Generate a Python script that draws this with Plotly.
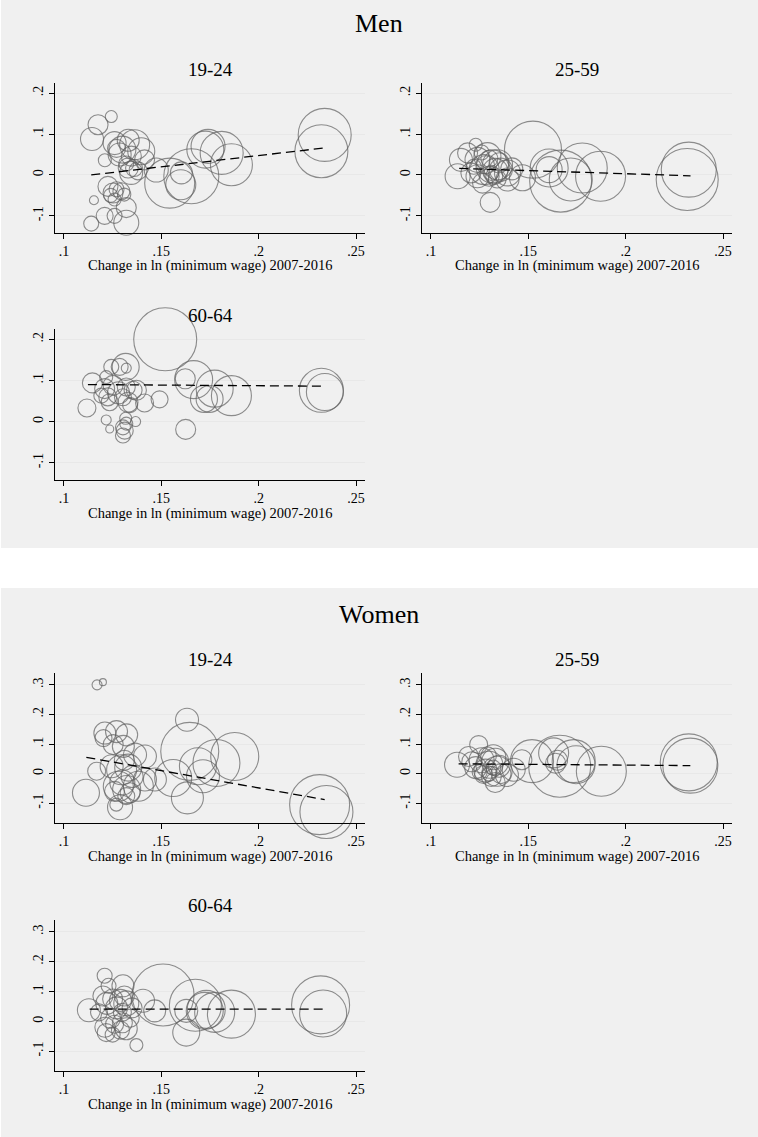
import plotly.graph_objects as go

W, H = 758, 1137

# ---------------- tick labels / text ----------------
x_tickvals = [0.1, 0.15, 0.2, 0.25]
x_ticktext = [".1", ".15", ".2", ".25"]
men_ytickvals = [-0.1, 0.0, 0.1, 0.2]
men_yticktext = ["-.1", "0", ".1", ".2"]
women_ytickvals = [-0.1, 0.0, 0.1, 0.2, 0.3]
women_yticktext = ["-.1", "0", ".1", ".2", ".3"]
group_titles = ["Men", "Women"]
age_groups = ["19-24", "25-59", "60-64"]
x_title = "Change in ln (minimum wage) 2007-2016"

# ---------------- Men 19-24 ----------------
men_1924_x = [0.1243, 0.1175, 0.1144, 0.1210, 0.1260, 0.1300, 0.1363, 0.1397, 0.1346, 0.1286,
              0.1414, 0.1270, 0.1330, 0.1330, 0.1345, 0.1360, 0.1320, 0.1380, 0.1474, 0.1226,
              0.1252, 0.1295, 0.1260, 0.1310, 0.1320, 0.1154, 0.1209, 0.1260, 0.1140, 0.1320,
              0.1270, 0.1240, 0.1543, 0.1654, 0.1600, 0.1603, 0.1726, 0.1740, 0.1810, 0.1860,
              0.2339, 0.2322]
men_1924_y = [0.143, 0.123, 0.088, 0.036, 0.078, 0.062, 0.074, 0.058, 0.046, 0.050,
              0.037, 0.065, 0.085, 0.017, 0.005, 0.017, 0.028, 0.010, 0.012, -0.028,
              -0.044, -0.040, -0.060, -0.048, -0.080, -0.062, -0.100, -0.100, -0.119, -0.117,
              -0.035, -0.050, -0.020, -0.003, -0.024, 0.005, 0.062, 0.070, 0.054, 0.025,
              0.098, 0.058]
men_1924_w = [12, 20, 23, 13, 23, 27, 30, 27, 20, 23,
              20, 18, 22, 20, 23, 17, 15, 18, 24, 20,
              20, 17, 13, 13, 20, 9, 17, 15, 15, 25,
              15, 14, 50, 55, 30, 22, 37, 34, 43, 42,
              53, 53]
men_1924_fit_x = [0.114, 0.2335]
men_1924_fit_y = [0.000, 0.066]

# ---------------- Men 25-59 ----------------
men_2559_x = [0.1230, 0.1188, 0.1154, 0.1137, 0.1239, 0.1290, 0.1316, 0.1342, 0.1273, 0.1239,
              0.1299, 0.1359, 0.1393, 0.1304, 0.1205, 0.1265, 0.1325, 0.1300, 0.1330, 0.1350,
              0.1280, 0.1220, 0.1310, 0.1340, 0.1260, 0.1393, 0.1470, 0.1415, 0.1524, 0.1666,
              0.1607, 0.1607, 0.1718, 0.1777, 0.1871, 0.2324, 0.2316]
men_2559_y = [0.074, 0.054, 0.037, -0.003, 0.037, 0.046, 0.021, 0.025, 0.013, -0.003,
              -0.003, 0.013, -0.011, -0.067, 0.005, -0.020, -0.003, 0.040, 0.010, 0.030,
              0.025, 0.020, 0.005, -0.010, 0.055, 0.005, -0.007, 0.015, 0.062, -0.015,
              0.017, 0.013, -0.011, 0.017, -0.003, 0.013, -0.011]
men_2559_w = [13, 20, 23, 25, 25, 27, 33, 30, 30, 23,
              20, 23, 23, 20, 20, 20, 17, 17, 25, 20,
              18, 15, 15, 18, 15, 26, 26, 22, 57, 62,
              38, 26, 43, 50, 50, 55, 62]
men_2559_fit_x = [0.1145, 0.2333]
men_2559_fit_y = [0.016, -0.002]

# ---------------- Men 60-64 ----------------
men_6064_x = [0.1520, 0.1666, 0.1623, 0.1774, 0.1860, 0.1719, 0.1748, 0.1625, 0.2322, 0.2340,
              0.1491, 0.1414, 0.1372, 0.1146, 0.1118, 0.1217, 0.1243, 0.1286, 0.1317, 0.1320,
              0.1209, 0.1252, 0.1320, 0.1355, 0.1235, 0.1303, 0.1329, 0.1192, 0.1225, 0.1280,
              0.1217, 0.1235, 0.1368, 0.1317, 0.1303, 0.1312, 0.1303, 0.1320, 0.1340]
men_6064_y = [0.200, 0.102, 0.104, 0.080, 0.063, 0.055, 0.055, -0.019, 0.076, 0.072,
              0.054, 0.045, 0.076, 0.094, 0.033, 0.108, 0.133, 0.133, 0.133, 0.130,
              0.080, 0.088, 0.084, 0.076, 0.047, 0.059, 0.047, 0.063, 0.060, 0.070,
              0.004, -0.018, 0.000, 0.008, -0.014, -0.022, -0.034, -0.005, 0.040]
men_6064_w = [63, 38, 20, 37, 40, 27, 27, 20, 44, 37,
              17, 18, 20, 20, 18, 13, 15, 17, 27, 10,
              20, 20, 18, 18, 17, 17, 20, 15, 18, 22,
              10, 8, 10, 12, 15, 17, 15, 13, 15]
men_6064_fit_x = [0.1123, 0.2339]
men_6064_fit_y = [0.090, 0.086]

# ---------------- Women 19-24 ----------------
women_1924_x = [0.1170, 0.1200, 0.1632, 0.1646, 0.1688, 0.1714, 0.1783, 0.1877, 0.1634, 0.1561,
                0.1416, 0.1467, 0.1113, 0.1168, 0.1210, 0.1270, 0.1322, 0.1203, 0.1253, 0.1305,
                0.1365, 0.1416, 0.1245, 0.1296, 0.1330, 0.1279, 0.1322, 0.1382, 0.1288, 0.1269,
                0.1320, 0.1300, 0.1340, 0.1260, 0.1310, 0.1350, 0.2313, 0.2348]
women_1924_y = [0.300, 0.309, 0.182, 0.075, 0.025, -0.009, 0.036, 0.058, -0.082, -0.015,
                -0.020, -0.020, -0.065, 0.008, 0.137, 0.142, 0.131, 0.120, 0.098, 0.092,
                0.064, 0.058, 0.025, 0.013, 0.020, -0.043, -0.054, -0.043, -0.114, -0.105,
                -0.076, -0.030, -0.065, -0.060, 0.045, -0.010, -0.105, -0.130]
women_1924_w = [10, 7, 23, 58, 37, 33, 47, 48, 32, 37,
                23, 23, 27, 18, 22, 22, 22, 17, 20, 22,
                23, 23, 23, 30, 27, 30, 28, 30, 25, 13,
                17, 25, 20, 20, 20, 22, 60, 53]
women_1924_fit_x = [0.1115, 0.2339]
women_1924_fit_y = [0.055, -0.088]

# ---------------- Women 25-59 ----------------
women_2559_x = [0.1134, 0.1193, 0.1245, 0.1210, 0.1230, 0.1260, 0.1280, 0.1300, 0.1320, 0.1340,
                0.1330, 0.1350, 0.1360, 0.1310, 0.1270, 0.1250, 0.1290, 0.1320, 0.1300, 0.1390,
                0.1425, 0.1467, 0.1330, 0.1519, 0.1661, 0.1630, 0.1650, 0.1640, 0.1733, 0.1745,
                0.1875, 0.2324, 0.2332]
women_2559_y = [0.030, 0.058, 0.098, 0.040, 0.020, 0.045, 0.010, 0.030, 0.055, 0.008,
                0.040, 0.025, 0.000, -0.010, -0.003, 0.005, 0.060, 0.020, 0.000, -0.005,
                0.013, 0.047, -0.030, 0.042, 0.025, 0.070, 0.045, 0.035, 0.042, 0.030,
                0.008, 0.038, 0.027]
women_2559_w = [25, 20, 18, 20, 22, 25, 23, 27, 25, 30,
                27, 22, 20, 20, 18, 15, 18, 15, 15, 23,
                23, 20, 20, 43, 62, 30, 20, 20, 43, 38,
                50, 57, 55]
women_2559_fit_x = [0.1142, 0.2332]
women_2559_fit_y = [0.033, 0.027]

# ---------------- Women 60-64 ----------------
women_6064_x = [0.1209, 0.1229, 0.1128, 0.1303, 0.1372, 0.1217, 0.1509, 0.1406, 0.1466, 0.1628,
                0.1628, 0.1675, 0.1723, 0.1731, 0.1774, 0.1860, 0.2318, 0.2331, 0.1200, 0.1220,
                0.1250, 0.1270, 0.1290, 0.1310, 0.1320, 0.1300, 0.1240, 0.1210, 0.1260, 0.1300,
                0.1320, 0.1290, 0.1340, 0.1350, 0.1180, 0.1250]
women_6064_y = [0.153, 0.119, 0.037, 0.119, -0.080, -0.038, 0.088, 0.069, 0.035, 0.035,
                -0.038, 0.054, 0.035, 0.040, 0.030, 0.024, 0.055, 0.026, 0.085, 0.060,
                0.075, 0.045, 0.070, 0.085, 0.060, 0.030, 0.010, -0.020, -0.010, -0.005,
                -0.025, -0.030, 0.010, 0.045, 0.030, -0.045]
women_6064_w = [15, 15, 23, 22, 13, 18, 62, 23, 22, 23,
                27, 52, 37, 38, 40, 48, 58, 47, 20, 22,
                20, 22, 22, 20, 25, 18, 20, 20, 18, 20,
                22, 18, 18, 20, 17, 15]
women_6064_fit_x = [0.1132, 0.2331]
women_6064_fit_y = [0.0405, 0.0405]

# ---------------- layout geometry (pixels) ----------------
col_px = [(55, 365), (422, 732)]
row_px = {("Men", 0): (83, 233), ("Men", 1): (329, 480),
          ("Women", 0): (673, 823), ("Women", 1): (920, 1071)}
title_cy = {("Men", 0): 70, ("Men", 1): 315, ("Women", 0): 659, ("Women", 1): 905}
group_cy = {"Men": 24, "Women": 614}
grey_bands = [(0, 548), (588, H)]

panels = [
    ("Men", "19-24", 0, 0, men_1924_x, men_1924_y, men_1924_w, men_1924_fit_x, men_1924_fit_y),
    ("Men", "25-59", 0, 1, men_2559_x, men_2559_y, men_2559_w, men_2559_fit_x, men_2559_fit_y),
    ("Men", "60-64", 1, 0, men_6064_x, men_6064_y, men_6064_w, men_6064_fit_x, men_6064_fit_y),
    ("Women", "19-24", 0, 0, women_1924_x, women_1924_y, women_1924_w, women_1924_fit_x, women_1924_fit_y),
    ("Women", "25-59", 0, 1, women_2559_x, women_2559_y, women_2559_w, women_2559_fit_x, women_2559_fit_y),
    ("Women", "60-64", 1, 0, women_6064_x, women_6064_y, women_6064_w, women_6064_fit_x, women_6064_fit_y),
]

FONT = "Liberation Serif"
MARKER_COLOR = "rgb(96,96,96)"

fig = go.Figure()
annotations = []
shapes = []
for y0, y1 in grey_bands:
    shapes.append(dict(type="rect", xref="paper", yref="paper", x0=1 / W, x1=1,
                       y0=1 - y1 / H, y1=1 - y0 / H, fillcolor="#F0F0F0",
                       line=dict(width=0), layer="below"))

layout_axes = {}
for i, (g, age, r, c, xs, ys, ws, fx, fy) in enumerate(panels):
    n = i + 1
    xa = "x" if n == 1 else f"x{n}"
    ya = "y" if n == 1 else f"y{n}"
    l, rr = col_px[c]
    t, b = row_px[(g, r)]
    fig.add_trace(go.Scatter(
        x=xs, y=ys, mode="markers", xaxis=xa, yaxis=ya, cliponaxis=False,
        marker=dict(symbol="circle-open", size=ws, color=MARKER_COLOR,
                    line=dict(width=1.1, color=MARKER_COLOR)),
        hoverinfo="skip", showlegend=False))
    fig.add_trace(go.Scatter(
        x=fx, y=fy, mode="lines", xaxis=xa, yaxis=ya, cliponaxis=False,
        line=dict(color="black", width=1.3, dash="9px,5px"),
        hoverinfo="skip", showlegend=False))
    if g == "Men":
        yr = [-0.142, 0.225]
        ytv, ytt = men_ytickvals, men_yticktext
    else:
        yr = [-0.167, 0.340]
        ytv, ytt = women_ytickvals, women_yticktext
    axis_common = dict(showline=True, linecolor="black", linewidth=1.2, ticks="outside",
                       ticklen=5, tickwidth=1, tickcolor="black",
                       tickfont=dict(family=FONT, size=14, color="black"),
                       zeroline=False, fixedrange=True)
    layout_axes["xaxis" if n == 1 else f"xaxis{n}"] = dict(
        domain=[l / W, rr / W], anchor=ya, range=[0.0954, 0.2546],
        tickvals=x_tickvals, ticktext=x_ticktext, showgrid=False, **axis_common)
    layout_axes["yaxis" if n == 1 else f"yaxis{n}"] = dict(
        domain=[1 - b / H, 1 - t / H], anchor=xa, range=yr,
        tickvals=ytv, ticktext=ytt, tickangle=-90, showgrid=True,
        gridcolor="#E8E8E8", gridwidth=1, **axis_common)
    cx = (l + rr) / 2
    annotations.append(dict(text=age, xref="paper", yref="paper", x=cx / W,
                            y=1 - title_cy[(g, r)] / H, xanchor="center", yanchor="middle",
                            showarrow=False, font=dict(family=FONT, size=19, color="black")))
    annotations.append(dict(text=x_title, xref="paper", yref="paper", x=cx / W,
                            y=1 - (b + 33) / H, xanchor="center", yanchor="middle",
                            showarrow=False, font=dict(family=FONT, size=14.5, color="black")))

for g in group_titles:
    annotations.append(dict(text=g, xref="paper", yref="paper", x=0.5,
                            y=1 - group_cy[g] / H, xanchor="center", yanchor="middle",
                            showarrow=False, font=dict(family=FONT, size=26, color="black")))

fig.update_layout(width=W, height=H, margin=dict(l=0, r=0, t=0, b=0),
                  paper_bgcolor="white", plot_bgcolor="white",
                  shapes=shapes, annotations=annotations, **layout_axes)

fig.write_html("out.html", config={"displayModeBar": False},
               post_script="document.body.style.margin='0';document.body.style.overflow='hidden';")
